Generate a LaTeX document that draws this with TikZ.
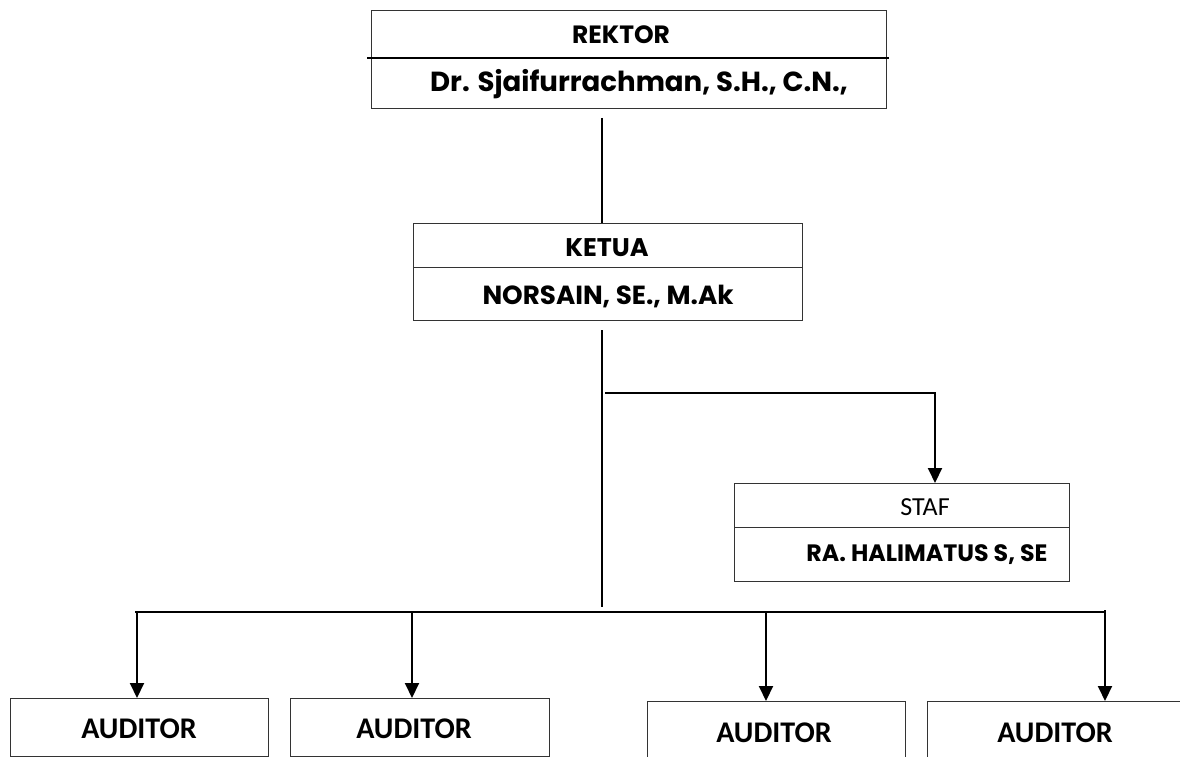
\documentclass[tikz,border=0pt]{standalone}
\usepackage{fontspec}
\usetikzlibrary{arrows.meta}
\newfontfamily\popfont{Poppins}[BoldFont={* Bold}]
\newfontfamily\calfont{Carlito}[BoldFont={* Bold}]
\begin{document}
\begin{tikzpicture}[x=1pt,y=-1pt,
  boxpart/.style={draw=black!80, line width=1.2pt, inner sep=0pt, anchor=north west},
  conn/.style={draw=black, line width=2pt},
  arr/.style={conn, -{Triangle[width=14pt,length=15pt]}},
  poptxt/.style={font=\popfont\bfseries\fontsize{#1}{#1}\selectfont},
  caltxt/.style={font=\calfont\bfseries\fontsize{#1}{#1}\selectfont},
  calreg/.style={font=\calfont\fontsize{#1}{#1}\selectfont}]
\useasboundingbox (0,0) rectangle (1180,757);
\clip (0,0) rectangle (1180,757);
% REKTOR
\node[boxpart, minimum width=515pt, minimum height=48pt] (rekT) at (371,10) {};
\node[boxpart, minimum width=515pt, minimum height=50pt] (rekB) at (371,58) {};
\draw[black, line width=1.6pt] (367,58) -- (889,58);
\node[poptxt=25] (rekTxt) at (621,35) {REKTOR};
\node[poptxt=27.6] (rekName) at (639,84) {Dr. Sjaifurrachman, S.H., C.N.,};
% KETUA
\node[boxpart, minimum width=389pt, minimum height=44pt] (ketT) at (413,223) {};
\node[boxpart, minimum width=389pt, minimum height=53pt] (ketB) at (413,267) {};
\node[poptxt=25.5] (ketTxt) at (607,248) {KETUA};
\node[poptxt=26.2] (ketName) at (608,296) {NORSAIN, SE., M.Ak};
% STAF
\node[boxpart, minimum width=335pt, minimum height=44pt] (stT) at (734,483) {};
\node[boxpart, minimum width=335pt, minimum height=54pt] (stB) at (734,527) {};
\node[calreg=26] (stTxt) at (925,507) {STAF};
\node[poptxt=23.7] (stName) at (927,555) {RA. HALIMATUS S, SE};
% AUDITORS
\node[boxpart, minimum width=258pt, minimum height=58pt] (a1) at (10,698) {};
\node[boxpart, minimum width=259pt, minimum height=58pt] (a2) at (290,698) {};
\node[boxpart, minimum width=258pt, minimum height=70pt] (a3) at (647,701) {};
\node[boxpart, minimum width=270pt, minimum height=70pt] (a4) at (927,701) {};
\node[caltxt=30] (a1t) at (139,729) {AUDITOR};
\node[caltxt=30] (a2t) at (414,729) {AUDITOR};
\node[caltxt=30] (a3t) at (774,733) {AUDITOR};
\node[caltxt=30] (a4t) at (1055,733) {AUDITOR};
% connectors
\coordinate (k1) at (602,118);
\coordinate (k2) at (602,330);
\coordinate (k3) at (602,607);
\coordinate (br) at (605,393);
\coordinate (busL) at (135,612);
\coordinate (busR) at (1105,612);
\draw[conn] (k1) -- (ketT.north -| k1);
\draw[conn] (k2) -- (k3);
\draw[arr] (br) -| (stT.north -| 935,0);
\draw[conn] (busL) -- (busR);
\draw[arr] (137,612) -- (a1.north -| 137,0);
\draw[arr] (412,612) -- (a2.north -| 412,0);
\draw[arr] (766,612) -- (a3.north -| 766,0);
\draw[arr] (1105,610) -- (a4.north -| 1105,0);
\end{tikzpicture}
\end{document}
